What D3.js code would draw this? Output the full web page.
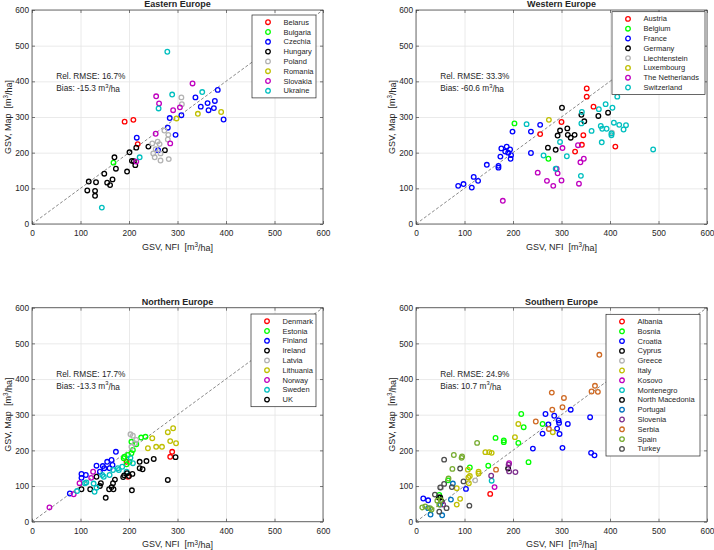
<!DOCTYPE html>
<html>
<head>
<meta charset="utf-8">
<script src="https://cdn.jsdelivr.net/npm/d3@7"></script>
<style>
body { margin: 0; background: #fff; }
svg text { font-family: "Liberation Sans", Arial, Helvetica, sans-serif; fill: #262626; }
</style>
</head>
<body>
<script>
//axis ticks shared by all four panels
var ticks = [0, 100, 200, 300, 400, 500, 600];

//Eastern Europe
var eastNames = ["Belarus", "Bulgaria", "Czechia", "Hungary", "Poland", "Romania", "Slovakia", "Ukraine"];
var eastData = [
    [[191,287],[209,292],[218,224]],
    [[168,172]],
    [[216,242],[280,270],[296,250],[284,297],[308,305],[337,355],[348,329],[362,339],[364,319],[375,325],[377,345],[383,376],[395,293],[260,207]],
    [[114,94],[117,119],[132,117],[130,93],[130,79],[149,141],[155,116],[161,109],[166,125],[170,187],[173,155],[196,147],[201,201],[206,177],[210,176],[213,165],[215,214],[240,217],[274,207]],
    [[273,262],[281,250],[280,237],[259,231],[263,224],[248,226],[255,210],[250,198],[265,198],[253,187],[265,178],[282,182],[308,355],[309,336]],
    [[298,296],[342,309],[390,314]],
    [[256,358],[262,338],[255,253],[291,319],[305,327],[331,394],[285,226],[215,175]],
    [[279,483],[289,363],[261,324],[351,370],[222,187],[144,46]]
];
var eastStats = ["16.7%", "-15.3"];

//Western Europe
var westNames = ["Austria", "Belgium", "France", "Germany", "Liechtenstein", "Luxembourg", "The Netherlands", "Switzerland"];
var westData = [
    [[352,380],[352,357],[366,329],[300,286],[256,252],[345,249],[342,222],[328,203],[411,217]],
    [[203,282],[273,183]],
    [[87,107],[98,112],[115,102],[119,132],[128,121],[146,166],[170,163],[170,158],[174,189],[176,212],[184,203],[187,217],[190,200],[194,209],[196,193],[195,183],[199,259],[237,259],[256,278],[237,199]],
    [[301,326],[341,306],[347,288],[376,303],[396,312],[297,262],[312,268],[292,248],[313,250],[319,242],[327,250],[272,214],[288,208]],
    [[404,256]],
    [[274,292]],
    [[179,65],[251,144],[270,121],[283,107],[300,122],[290,155],[292,142],[302,213],[334,221],[339,173],[346,183],[336,113]],
    [[228,280],[263,192],[288,155],[297,230],[311,190],[342,314],[341,282],[340,135],[362,261],[377,322],[381,275],[384,267],[391,336],[393,267],[383,229],[405,326],[403,254],[403,249],[408,284],[415,357],[419,278],[428,265],[433,277],[489,209]]
];
var westStats = ["33.3%", "-60.6"];

//Northern Europe
var northNames = ["Denmark", "Estonia", "Finland", "Ireland", "Latvia", "Lithuania", "Norway", "Sweden", "UK"];
var northData = [
    [[289,196],[285,182],[195,168],[198,126]],
    [[234,238],[225,236],[215,217],[208,201],[205,224],[205,192],[198,187],[191,182],[189,178],[195,161],[201,168]],
    [[78,79],[102,134],[102,123],[111,131],[133,157],[146,156],[149,150],[155,168],[164,173],[166,159],[173,196],[140,140],[160,150]],
    [[102,91],[120,91],[140,100],[142,108],[152,67],[159,91],[164,97],[167,108],[171,118],[133,126]],
    [[203,245],[208,241],[215,229],[205,210],[212,220]],
    [[291,262],[280,251],[285,226],[297,220],[248,234],[239,206],[256,210],[268,210]],
    [[36,40],[86,77],[98,108],[126,140],[122,123]],
    [[93,86],[112,110],[129,84],[127,107],[145,131],[167,145],[177,150],[179,145],[186,154],[203,179],[208,164],[195,140],[160,131],[148,126],[133,95],[109,108]],
    [[168,91],[188,125],[196,136],[206,88],[207,134],[222,150],[228,147],[222,168],[236,170],[251,176],[280,117],[296,181],[200,128],[190,130]]
];
var northStats = ["17.7%", "-13.3"];

//Southern Europe
var southNames = ["Albania", "Bosnia", "Croatia", "Cyprus", "Greece", "Italy", "Kosovo", "Montenegro", "North Macedonia", "Portugal", "Slovenia", "Serbia", "Spain", "Turkey"];
var southData = [
    [[153,78]],
    [[217,302],[222,265],[211,221],[261,274],[232,167],[164,235],[181,228],[181,223],[149,157],[111,152],[66,116],[48,75]],
    [[267,302],[285,297],[294,284],[295,277],[291,261],[273,273],[261,247],[296,246],[313,274],[319,314],[241,205],[302,207],[359,293],[361,193],[368,186],[103,92],[15,65],[25,60]],
    [[47,68],[53,57]],
    [[52,96],[122,116]],
    [[211,274],[204,237],[143,195],[151,195],[156,193],[129,140],[129,135],[107,146],[108,124],[111,128],[109,108],[84,94],[91,64],[84,48],[282,251]],
    [[162,97],[192,164]],
    [[156,115]],
    [[190,149],[50,68]],
    [[30,20],[54,18],[72,62],[76,107],[25,38],[50,48]],
    [[155,129],[192,141],[205,139],[191,160],[56,48]],
    [[378,468],[369,381],[375,364],[362,365],[305,347],[280,362],[302,321],[281,314],[247,281],[274,260],[165,146]],
    [[126,221],[94,179],[95,183],[78,187],[75,148],[13,40],[19,43],[29,38],[32,34],[44,59],[51,61],[48,48],[67,121]],
    [[58,174],[91,149],[58,106],[50,96],[39,76],[48,28],[63,38],[110,45],[74,97],[98,113]]
];
var southStats = ["24.9%", "10.7"];

//marker colours
var baseColors = ["#ff0000", "#00ff00", "#0000ff", "#000000", "#b3b3b3", "#bfbf00", "#bf00bf", "#00bfbf"];
var northColors = baseColors.concat(["#000000"]);
var southColors = ["#ff0000", "#00ff00", "#0000ff", "#000000", "#b3b3b3", "#bfbf00", "#bf00bf", "#00bfbf", "#000000", "#0072bd", "#7e2f8e", "#cf6a24", "#77ac30", "#4d4d4d"];

var width = 714, height = 550;
var pw = 291, ph = 214;

var svg = d3.select("body").append("svg")
    .attr("width", width)
    .attr("height", height);

var panels = [
    {title: "Eastern Europe", names: eastNames, data: eastData, colors: baseColors, stats: eastStats, left: 32, top: 10, legW: 64, legR: 284, legT: 5},
    {title: "Western Europe", names: westNames, data: westData, colors: baseColors, stats: westStats, left: 416, top: 10, legW: 93, legR: 289, legT: 1.7},
    {title: "Northern Europe", names: northNames, data: northData, colors: northColors, stats: northStats, left: 32, top: 307.7, legW: 65, legR: 284, legT: 6.3},
    {title: "Southern Europe", names: southNames, data: southData, colors: southColors, stats: southStats, left: 416, top: 307.7, legW: 94, legR: 284, legT: 6.6}
];

//text with an m^3 superscript
function unitText(sel, before, after) {
    sel.append("tspan").text(before);
    sel.append("tspan").attr("dy", "-0.4em").attr("font-size", "0.7em").text("3");
    sel.append("tspan").attr("dy", "0.4em").text(after);
}

panels.forEach(function(p) {
    var g = svg.append("g").attr("transform", "translate(" + p.left + "," + p.top + ")");
    var x = d3.scaleLinear().domain([0, 600]).range([0, pw]);
    var y = d3.scaleLinear().domain([0, 600]).range([ph, 0]);

    //grid lines
    var gx = g.append("g").attr("transform", "translate(0," + ph + ")")
        .call(d3.axisBottom(x).tickValues(ticks).tickSize(-ph).tickFormat(""));
    var gy = g.append("g")
        .call(d3.axisLeft(y).tickValues(ticks).tickSize(-pw).tickFormat(""));
    [gx, gy].forEach(function(s) {
        s.select(".domain").remove();
        s.selectAll("line").attr("stroke", "#e4e4e4").attr("stroke-width", 0.8);
    });

    //1:1 line
    g.append("line")
        .attr("x1", x(0)).attr("y1", y(0))
        .attr("x2", x(600)).attr("y2", y(600))
        .attr("stroke", "#555")
        .attr("stroke-width", 0.7)
        .attr("stroke-dasharray", "3,2");

    //points, one series per country
    p.data.forEach(function(pts, i) {
        g.append("g").selectAll("circle")
            .data(pts)
            .enter()
            .append("circle")
            .attr("cx", function(d) { return x(d[0]); })
            .attr("cy", function(d) { return y(d[1]); })
            .attr("r", 2.3)
            .attr("fill", "none")
            .attr("stroke", p.colors[i])
            .attr("stroke-width", 1.3);
    });

    //axes with inward ticks
    var axB = g.append("g").attr("transform", "translate(0," + ph + ")")
        .call(d3.axisBottom(x).tickValues(ticks).tickSize(-3).tickPadding(6.5));
    var axL = g.append("g")
        .call(d3.axisLeft(y).tickValues(ticks).tickSize(-3).tickPadding(3));
    var axT = g.append("g")
        .call(d3.axisTop(x).tickValues(ticks).tickSize(-3).tickFormat(""));
    var axR = g.append("g").attr("transform", "translate(" + pw + ",0)")
        .call(d3.axisRight(y).tickValues(ticks).tickSize(-3).tickFormat(""));
    [axB, axL, axT, axR].forEach(function(s) {
        s.select(".domain").remove();
        s.selectAll("line").attr("stroke", "#262626").attr("stroke-width", 0.6);
        s.selectAll("text").attr("font-size", 8.3).attr("fill", "#262626")
            .style("font-family", "'Liberation Sans', Arial, sans-serif");
    });

    //box
    g.append("rect")
        .attr("width", pw).attr("height", ph)
        .attr("fill", "none")
        .attr("stroke", "#4a4a4a")
        .attr("stroke-width", 0.8);

    //stats text
    g.append("text")
        .attr("x", x(50)).attr("y", y(415))
        .attr("dominant-baseline", "central")
        .attr("font-size", 8.3)
        .text("Rel. RMSE: " + p.stats[0]);
    var bias = g.append("text")
        .attr("x", x(50)).attr("y", y(381))
        .attr("dominant-baseline", "central")
        .attr("font-size", 8.3);
    unitText(bias, "Bias: " + p.stats[1] + " m", "/ha");

    //legend
    var rowH = 9.8;
    var legH = p.names.length * rowH + 4.5;
    var leg = g.append("g").attr("transform", "translate(" + (p.legR - p.legW) + "," + p.legT + ")");
    leg.append("rect")
        .attr("width", p.legW).attr("height", legH)
        .attr("fill", "#fff")
        .attr("stroke", "#262626")
        .attr("stroke-width", 0.7);
    var rows = leg.selectAll("g.row")
        .data(p.names)
        .enter()
        .append("g")
        .attr("class", "row")
        .attr("transform", function(d, i) { return "translate(0," + (7.2 + i * rowH) + ")"; });
    rows.append("circle")
        .attr("cx", 16).attr("r", 2.3)
        .attr("fill", "none")
        .attr("stroke", function(d, i) { return p.colors[i]; })
        .attr("stroke-width", 1.3);
    rows.append("text")
        .attr("x", 31.5)
        .attr("dominant-baseline", "central")
        .attr("font-size", 7.5)
        .text(function(d) { return d; });

    //title
    g.append("text")
        .attr("x", pw / 2).attr("y", -2.7)
        .attr("text-anchor", "middle")
        .attr("font-size", 9)
        .attr("font-weight", "bold")
        .attr("fill", "#000")
        .text(p.title);

    //axis labels
    var xl = g.append("text")
        .attr("x", pw / 2).attr("y", ph + 22.7)
        .attr("text-anchor", "middle")
        .attr("dominant-baseline", "central")
        .attr("font-size", 9)
        .style("white-space", "pre");
    unitText(xl, "GSV, NFI  [m", "/ha]");
    var yl = g.append("text")
        .attr("transform", "translate(-24.5," + (ph / 2) + ") rotate(-90)")
        .attr("text-anchor", "middle")
        .attr("dominant-baseline", "central")
        .attr("font-size", 9)
        .style("white-space", "pre");
    unitText(yl, "GSV, Map  [m", "/ha]");
});
</script>
</body>
</html>
